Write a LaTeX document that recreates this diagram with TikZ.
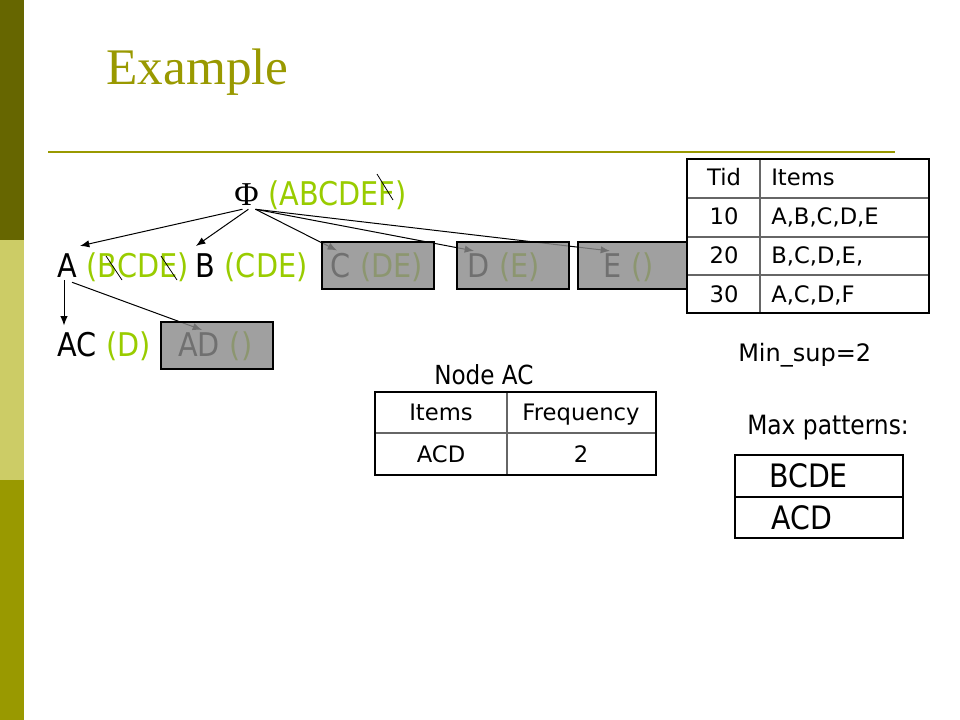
\documentclass[tikz,border=0pt]{standalone}
\usepackage{fontspec}
\setmainfont{DejaVu Sans}
\newfontfamily\tahoma[FakeStretch=0.88]{DejaVu Sans}
\newfontfamily\garamond{Liberation Serif}
\usetikzlibrary{arrows.meta,positioning}
\definecolor{barDark}{HTML}{666600}
\definecolor{barLight}{HTML}{CCCC66}
\definecolor{barMid}{HTML}{999900}
\definecolor{setgreen}{HTML}{99CC00}
\definecolor{boxgrey}{HTML}{8A8A8A}
\tikzstyle{item}=[inner sep=0pt,anchor=base west,font=\tahoma\fontsize{24.5}{28}\selectfont]
\tikzstyle{tail}=[item,text=setgreen]
\tikzstyle{greybox}=[draw=black,line width=1.2pt,fill=boxgrey,fill opacity=0.81,anchor=north west,minimum height=35.25pt,inner sep=0pt]
\tikzstyle{arr}=[draw,line width=0.75pt,-{Latex[length=7pt,width=5.5pt]}]
\tikzstyle{strike}=[draw,line width=0.6pt]
\tikzstyle{cell}=[inner sep=0pt,anchor=base,font=\fontsize{17}{20}\selectfont]
\tikzstyle{frame}=[draw,line width=2.2pt]
\tikzstyle{rule}=[draw,black!60,line width=0.8pt]

\begin{document}
\begin{tikzpicture}[x=0.75pt,y=-0.75pt]
    \useasboundingbox (0,0) rectangle (960,720);
    % Slide bars and heading
    \fill[barDark] (0,0) rectangle (24,240);
    \fill[barLight] (0,240) rectangle (24,480);
    \fill[barMid] (0,480) rectangle (24,720);
    \node[inner sep=0pt,anchor=base west,text=barMid,font=\garamond\fontsize{38.5}{44}\selectfont] (title) at (106,85) {Example};
    \draw[barMid,line width=1.5pt] (48,152) -- (895,152);

    % First we draw the items of the tree
    \node[item,font=\garamond\fontsize{25}{28}\selectfont] (phi) at (234,206) {Φ};
    \foreach \pos/\name in {{(57,277)/A}, {(195,277)/B}, {(330,277)/C}, {(467,277)/D}, {(603,277)/E}, {(57,356)/AC}, {(178,356)/AD}}
        \node[item] (\name) at \pos {\name};
    % then the tail of each item
    \foreach \name/\rest in {phi/ABCDEF, A/BCDE, B/CDE, C/DE, D/E, E/, AC/D, AD/}
        \node[tail,base right=6.9pt of \name] (\name tail) {(\rest)};
    % Crossed out letters
    \foreach \from/\to in {{(377,174)/(393,200)}, {(106,256)/(122,280)}, {(161,256)/(177,280)}}
        \path[strike] \from -- \to;

    % Connect the items with arrows
    \path[arr] ([shift={(-4,3)}]phi.south) -- ([shift={(23,-7)}]A.north west);
    \path[arr] ([shift={(2,3)}]phi.south) -- ([shift={(1,-7)}]B.north west);
    \foreach \dest in {C, D, E}
        \path[arr] ([shift={(9,3)}]phi.south) -- ([shift={(7,-2)}]\dest.north west);
    \path[arr] ([shift={(7,3)}]A.south west) -- ([shift={(7,-6)}]AC.north west);
    \path[arr] ([shift={(15,5)}]A.south west) -- ([shift={(24,-2)}]AD.north west);

    % Pruned items are greyed out
    \foreach \pos/\name/\w in {{(321,241)/Cbox/112}, {(456,241)/Dbox/112}, {(577,241)/Ebox/120}, {(160,321)/ADbox/112}}
        \node[greybox,minimum width=\w*0.75pt] (\name) at \pos {};

    % Transaction table
    \fill[white] (687,159) rectangle (929,313);
    \foreach \y in {198,237,275}
        \path[rule] (687,\y) -- (929,\y);
    \path[rule] (760,159) -- (760,313);
    \path[frame] (687,159) rectangle (929,313);
    \foreach \y/\tid/\items [count=\i] in {186/Tid/Items, 225/10/{A,B,C,D,E}, 264/20/{B,C,D,E,}, 302/30/{A,C,D,F}} {
        \node[cell] (tid\i) at (724,\y) {\tid};
        \node[cell,anchor=base west] (items\i) at (771,\y) {\items};
    }
    \node[cell,anchor=base west,font=\fontsize{18}{20}\selectfont] (minsup) at (738,361) {Min\_sup=2};

    % Table of node AC
    \node[item,font=\tahoma\fontsize{19.7}{22}\selectfont] (nodeAC) at (434,384) {Node AC};
    \path[rule] (375,433) -- (656,433);
    \path[rule] (507,392) -- (507,475);
    \path[frame] (375,392) rectangle (656,475);
    \node[cell] (acitems) at (441,420) {Items};
    \node[cell] (acfreq) at (581,420) {Frequency};
    \node[cell] (acset) at (441,462) {ACD};
    \node[cell] (account) at (581,462) {2};

    % Max patterns
    \node[item,font=\tahoma\fontsize{19.9}{22}\selectfont] (maxlabel) at (747,434) {Max patterns:};
    \path[rule,black] (735,497) -- (903,497);
    \path[frame] (735,455) rectangle (903,538);
    \node[item,font=\tahoma\fontsize{24.2}{28}\selectfont] (max1) at (769,487) {BCDE};
    \node[item,font=\tahoma\fontsize{24.2}{28}\selectfont] (max2) at (771,529) {ACD};
\end{tikzpicture}
\end{document}
